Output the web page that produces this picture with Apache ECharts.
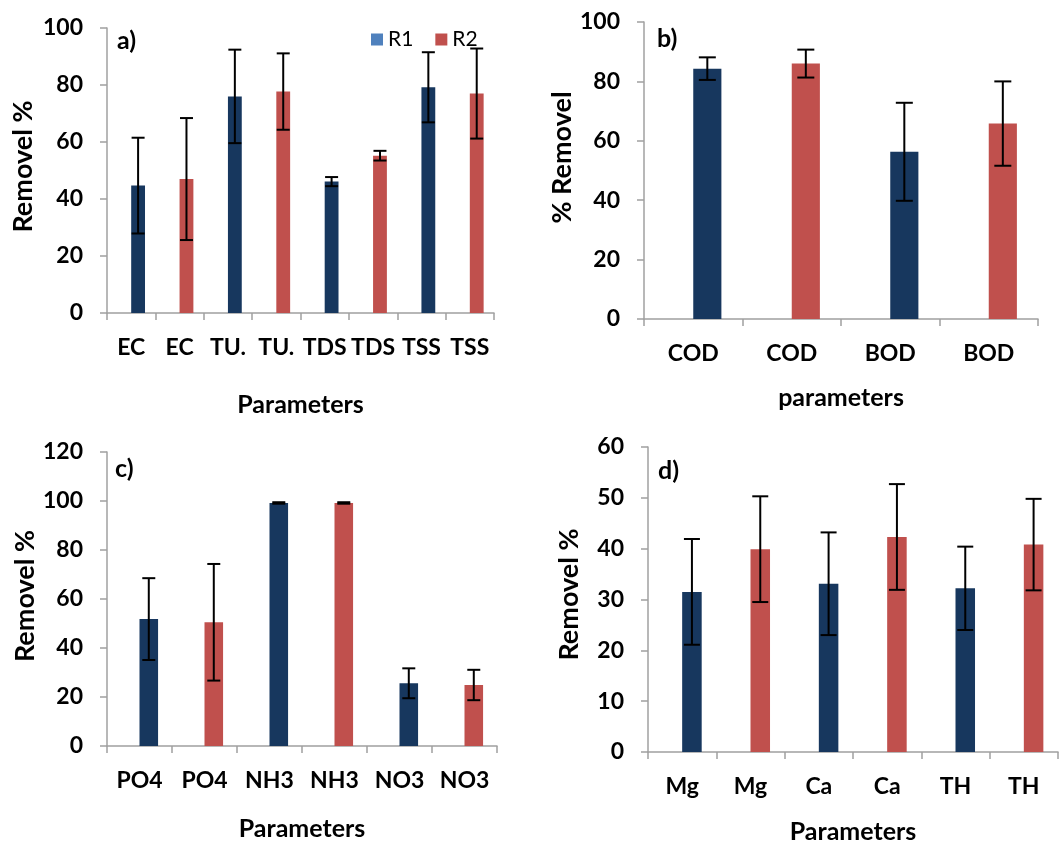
<!DOCTYPE html>
<html>
<head>
<meta charset="utf-8">
<script src="https://cdn.jsdelivr.net/npm/echarts@6/dist/echarts.min.js"></script>
<style>
html,body{margin:0;padding:0;background:#fff;}
#c{width:1059px;height:845px;}
</style>
</head>
<body>
<div id="c"></div>
<script>
// ---- data ----
const catsA = ['EC','EC','TU.','TU.','TDS','TDS','TSS','TSS'];
const r1A = [44.7,'-',76.0,'-',46.1,'-',79.2,'-'];
const r2A = ['-',47.0,'-',77.7,'-',55.2,'-',77.0];
const errA = [16.8,21.4,16.4,13.4,1.6,1.7,12.3,15.8];

const catsB = ['COD','COD','BOD','BOD'];
const r1B = [84.3,'-',56.3,'-'];
const r2B = ['-',86.0,'-',65.8];
const errB = [3.8,4.7,16.5,14.2];

const catsC = ['PO4','PO4','NH3','NH3','NO3','NO3'];
const r1C = [51.8,'-',99.2,'-',25.6,'-'];
const r2C = ['-',50.5,'-',99.2,'-',24.9];
const errC = [16.7,23.8,0.3,0.3,6.1,6.2];

const catsD = ['Mg','Mg','Ca','Ca','TH','TH'];
const r1D = [31.5,'-',33.1,'-',32.2,'-'];
const r2D = ['-',39.9,'-',42.3,'-',40.8];
const errD = [10.4,10.4,10.1,10.4,8.2,9.0];

const yTicksA = {min:0, max:100, interval:20};
const yTicksB = {min:0, max:100, interval:20};
const yTicksC = {min:0, max:120, interval:20};
const yTicksD = {min:0, max:60, interval:10};

// ---- styles ----
const NAVY = '#17375E', RED = '#C0504D', LEG_BLUE = '#4F81BD';
const AXIS_GRAY = '#a0a0a0';
const FONT = 'Lato';
const BAR_FRAC = 0.2857;

const panels = [
  {cats:catsA, r1:r1A, r2:r2A, err:errA, y:yTicksA, grid:{left:107, top:28, width:387, height:285},
   yName:'Removel %', xName:'Parameters', yGap:70, yShift:8, xGap:79, cap:13, label:'a)', lx:117, ly:28},
  {cats:catsB, r1:r1B, r2:r2B, err:errB, y:yTicksB, grid:{left:644, top:22, width:394, height:297},
   yName:'% Removel', xName:'parameters', yGap:62, yShift:26, xGap:66, cap:17, label:'b)', lx:657, ly:26},
  {cats:catsC, r1:r1C, r2:r2C, err:errC, y:yTicksC, grid:{left:107, top:452, width:390, height:294},
   yName:'Removel %', xName:'Parameters', yGap:65, yShift:6, xGap:70, cap:13, label:'c)', lx:115, ly:456},
  {cats:catsD, r1:r1D, r2:r2D, err:errD, y:yTicksD, grid:{left:648, top:447, width:410, height:308},
   yName:'Removel %', xName:'Parameters', yGap:65, yShift:10, xGap:67, cap:16, label:'d)', lx:658, ly:458}
];

const grids = [], xAxes = [], yAxes = [], series = [], titles = [];

panels.forEach((p, i) => {
  grids.push(Object.assign({containLabel:false}, p.grid));
  xAxes.push({
    type:'category', gridIndex:i, data:p.cats,
    axisLine:{show:true, lineStyle:{color:AXIS_GRAY, width:1.5}},
    axisTick:{show:true, inside:false, length:7, alignWithLabel:false, lineStyle:{color:AXIS_GRAY, width:1.5}},
    axisLabel:{margin:23, color:'#000', fontFamily:FONT, fontWeight:'bold', fontSize:23, interval:0},
    splitLine:{show:false},
    name:p.xName, nameLocation:'middle', nameGap:p.xGap,
    nameTextStyle:{color:'#000', fontFamily:FONT, fontWeight:'bold', fontSize:25}
  });
  yAxes.push({
    type:'value', gridIndex:i, min:p.y.min, max:p.y.max, interval:p.y.interval,
    axisLine:{show:true, lineStyle:{color:AXIS_GRAY, width:1.5}},
    axisTick:{show:true, inside:false, length:7, lineStyle:{color:AXIS_GRAY, width:1.5}},
    axisLabel:{margin:24, color:'#000', fontFamily:FONT, fontWeight:'bold', fontSize:23},
    splitLine:{show:false},
    name:p.yName, nameLocation:'middle', nameGap:p.yGap,
    nameTextStyle:{color:'#000', fontFamily:FONT, fontWeight:'bold', fontSize:27, padding:[0,0,0,p.yShift]}
  });
  // empty slot so the visible bars sit right of the category centre (as in the source)
  series.push({
    type:'bar', name:'pad'+i, xAxisIndex:i, yAxisIndex:i, stack:'pad'+i,
    data:p.cats.map(() => '-'), barWidth:(BAR_FRAC*100)+'%', barGap:'0%',
    silent:true, itemStyle:{color:'transparent'}
  });
  series.push({
    type:'bar', name:'R1', xAxisIndex:i, yAxisIndex:i, stack:'main'+i,
    data:p.r1, barWidth:(BAR_FRAC*100)+'%', barGap:'0%',
    itemStyle:{color:NAVY}
  });
  series.push({
    type:'bar', name:'R2', xAxisIndex:i, yAxisIndex:i, stack:'main'+i,
    data:p.r2, barWidth:(BAR_FRAC*100)+'%', barGap:'0%',
    itemStyle:{color:RED}
  });
  const errData = p.cats.map((c, k) => {
    const v = p.r1[k] !== '-' ? p.r1[k] : p.r2[k];
    return [k, v, p.err[k]];
  });
  const cap = p.cap;
  series.push({
    type:'custom', name:'err'+i, xAxisIndex:i, yAxisIndex:i, z:10,
    data:errData,
    renderItem:function(params, api){
      const x = api.value(0), v = api.value(1), e = api.value(2);
      const band = api.size([1, 0])[0];
      const off = band * BAR_FRAC / 2;
      const top = api.coord([x, v + e]);
      const bot = api.coord([x, v - e]);
      const cx = top[0] + off;
      const st = {stroke:'#000', lineWidth:2};
      return {type:'group', children:[
        {type:'line', shape:{x1:cx, y1:top[1], x2:cx, y2:bot[1]}, style:st},
        {type:'line', shape:{x1:cx-cap/2, y1:top[1], x2:cx+cap/2, y2:top[1]}, style:st},
        {type:'line', shape:{x1:cx-cap/2, y1:bot[1], x2:cx+cap/2, y2:bot[1]}, style:st}
      ]};
    }
  });
  titles.push({text:p.label, left:p.lx, top:p.ly, padding:0,
    textStyle:{color:'#000', fontFamily:FONT, fontWeight:'bold', fontSize:25}});
});

const chart = echarts.init(document.getElementById('c'), null, {renderer:'canvas'});
chart.setOption({
  animation:false,
  backgroundColor:'#fff',
  title:titles,
  legend:{
    left:366, top:24, itemWidth:12, itemHeight:12, itemGap:22, icon:'rect',
    textStyle:{color:'#000', fontFamily:FONT, fontSize:21},
    data:[{name:'R1', itemStyle:{color:LEG_BLUE}}, {name:'R2', itemStyle:{color:RED}}],
    selectedMode:false
  },
  grid:grids, xAxis:xAxes, yAxis:yAxes, series:series
});
</script>
</body>
</html>
